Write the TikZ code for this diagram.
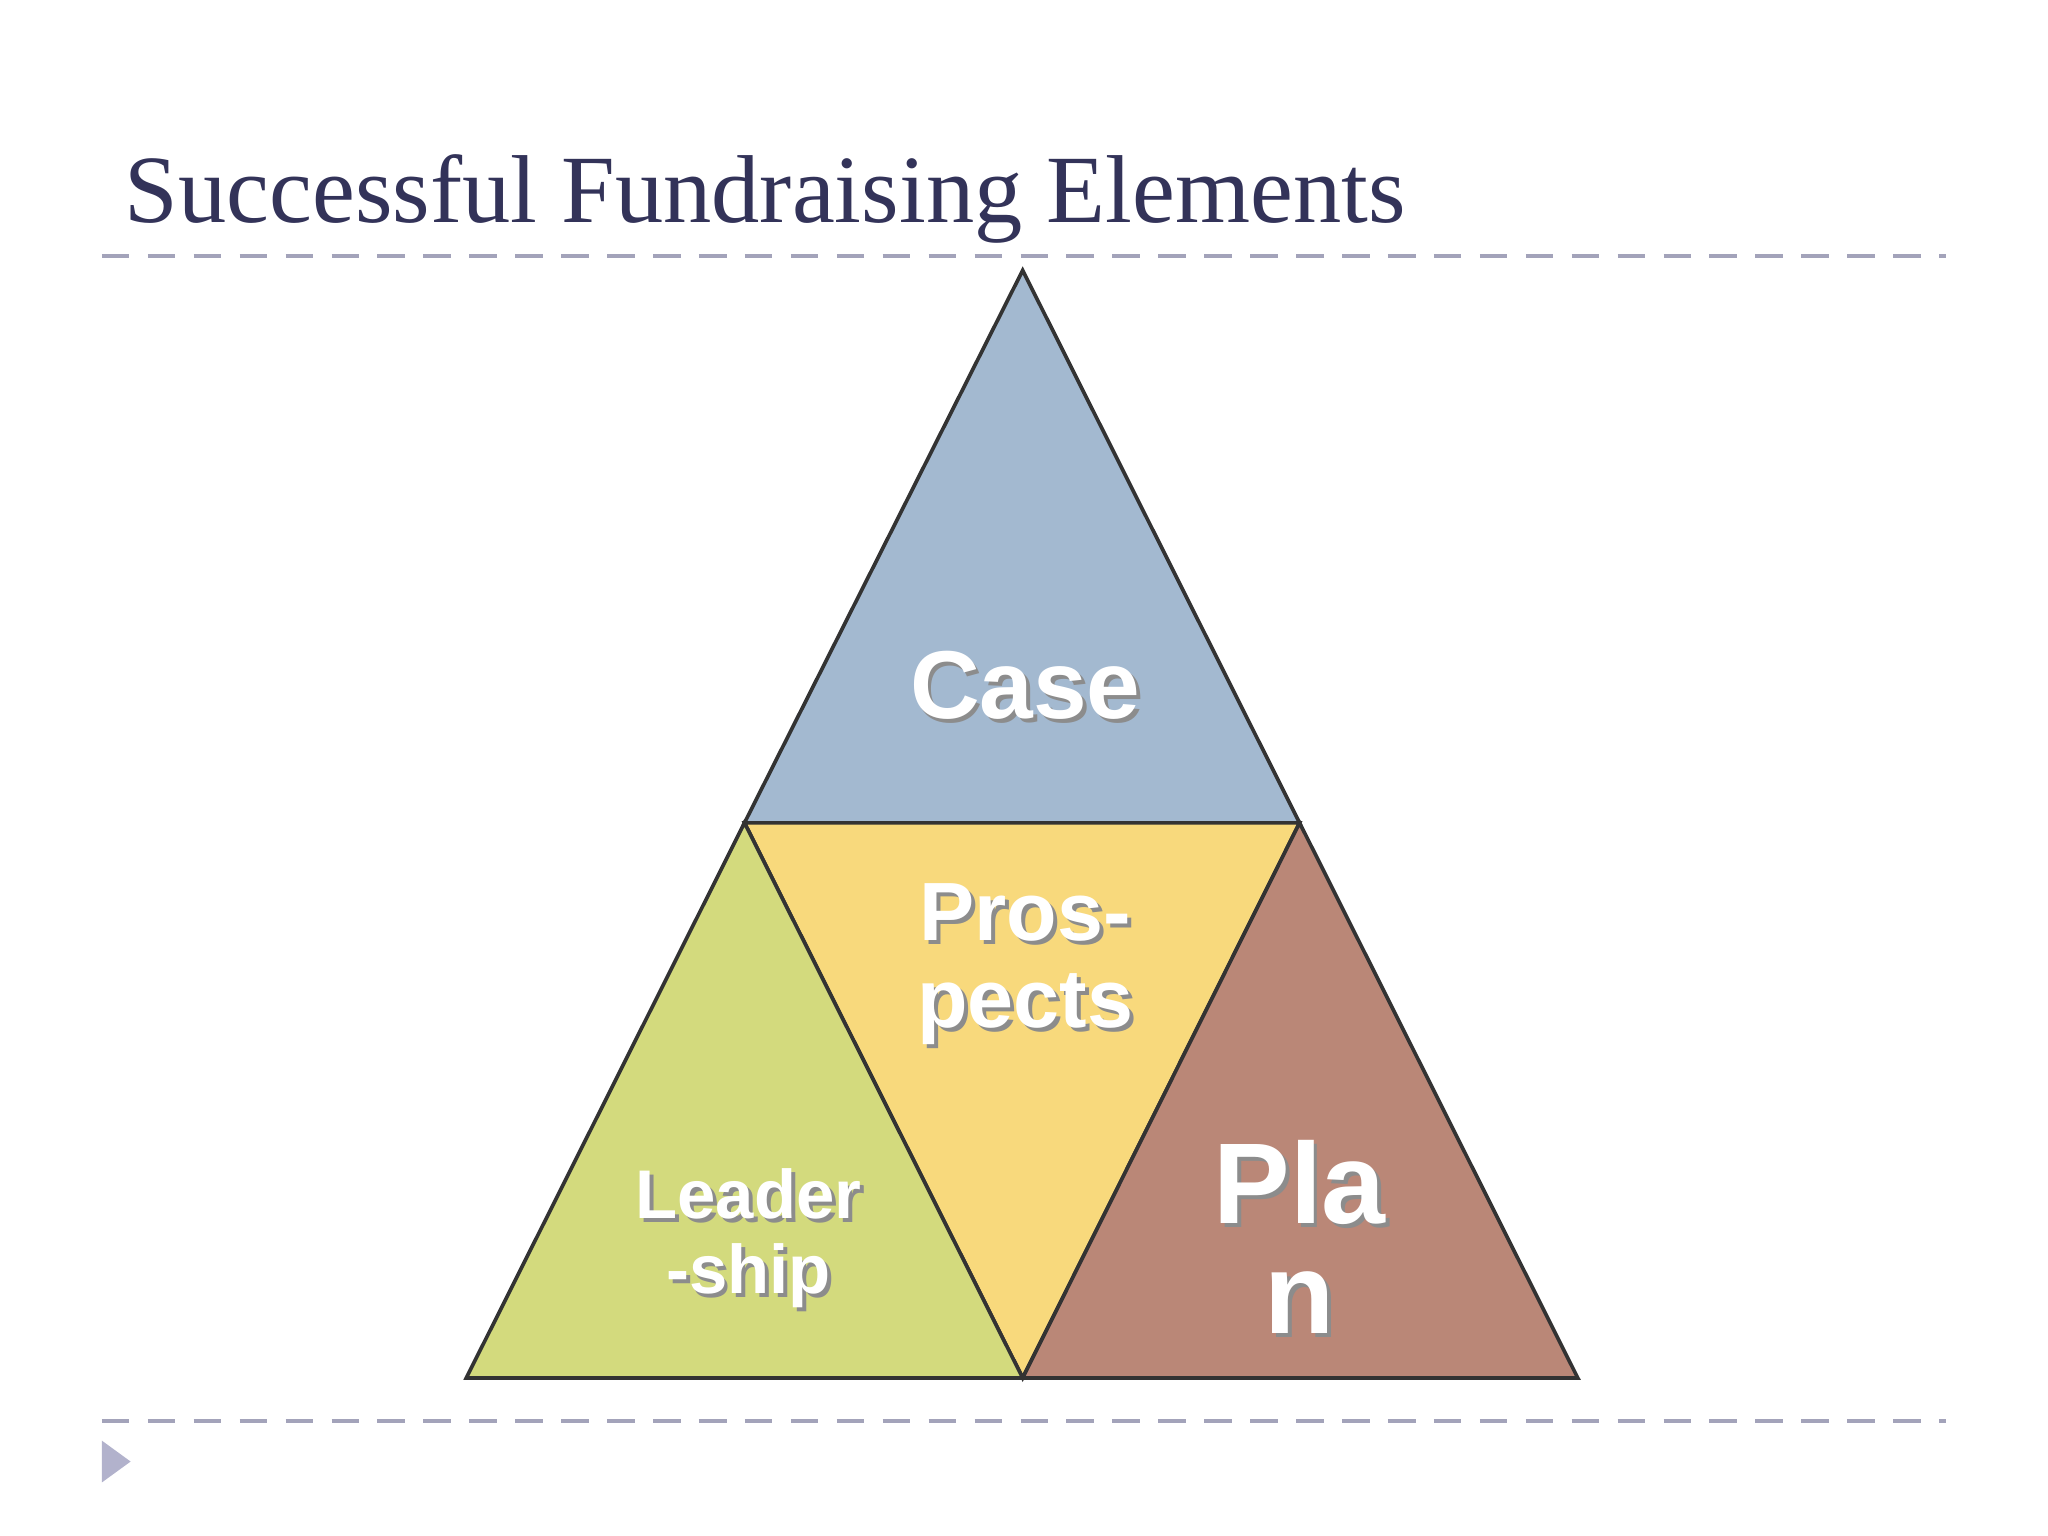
\documentclass[tikz,border=0pt]{standalone}
\usepackage{fontspec}
\setmainfont{Liberation Serif}
\setsansfont{Liberation Sans}
\begin{document}
\begin{tikzpicture}[x=0.01cm,y=-0.01cm,
  tri/.style={draw=black!80,line width=0.8pt},
  lbl/.style={font=\sffamily\bfseries,text=white,align=center,inner sep=0pt},
  shd/.style={font=\sffamily\bfseries,text=black!45,align=center,inner sep=0pt},
  dline/.style={dashed,draw=black!25!blue!20!gray!60,line width=0.8pt,dash pattern=on 6pt off 4pt}]
\useasboundingbox (0,0) rectangle (1568,1176);
\fill[white] (0,0) rectangle (1568,1176);
\node[anchor=base west,inner sep=0pt,text=black!75!blue!60!gray,font=\fontsize{21}{24}\selectfont] (title) at (95,170) {Successful Fundraising Elements};
\coordinate (l1) at (78,196); \coordinate (r1) at (1490,196);
\coordinate (l2) at (78,1088); \coordinate (r2) at (1490,1088);
\draw[dline] (l1) -- (r1);
\draw[dline] (l2) -- (r2);
\fill[fill=blue!20!gray!50] (78,1103) -- (100,1119) -- (78,1135) -- cycle;
\coordinate (A) at (783,207);
\coordinate (B) at (357,1055);
\coordinate (C) at (1208,1055);
\coordinate (AB) at (570,630);
\coordinate (AC) at (995,630);
\coordinate (BC) at (783,1055);
\draw[tri,fill={rgb,255:red,163;green,185;blue,208}] (A) -- (AB) -- (AC) -- cycle;
\draw[tri,fill={rgb,255:red,248;green,217;blue,124}] (AB) -- (AC) -- (BC) -- cycle;
\draw[tri,fill={rgb,255:red,211;green,218;blue,125}] (AB) -- (BC) -- (B) -- cycle;
\draw[tri,fill={rgb,255:red,186;green,135;blue,119}] (AC) -- (C) -- (BC) -- cycle;
\foreach \s/\d in {shd/3,lbl/0}{
 \node[\s,font=\sffamily\bfseries\fontsize{21}{24}\selectfont] (case\s) at (785+\d,525+\d) {Case};
 \node[\s,font=\sffamily\bfseries\fontsize{18}{19}\selectfont] (pros\s) at (785+\d,738+\d) {Pros-\\pects};
 \node[\s,font=\sffamily\bfseries\fontsize{15}{16.5}\selectfont] (lead\s) at (573+\d,948+\d) {Leader\\-ship};
 \node[\s,font=\sffamily\bfseries\fontsize{25}{24}\selectfont] (plan\s) at (995+\d,947+\d) {Pla\\n};
}
\end{tikzpicture}
\end{document}
